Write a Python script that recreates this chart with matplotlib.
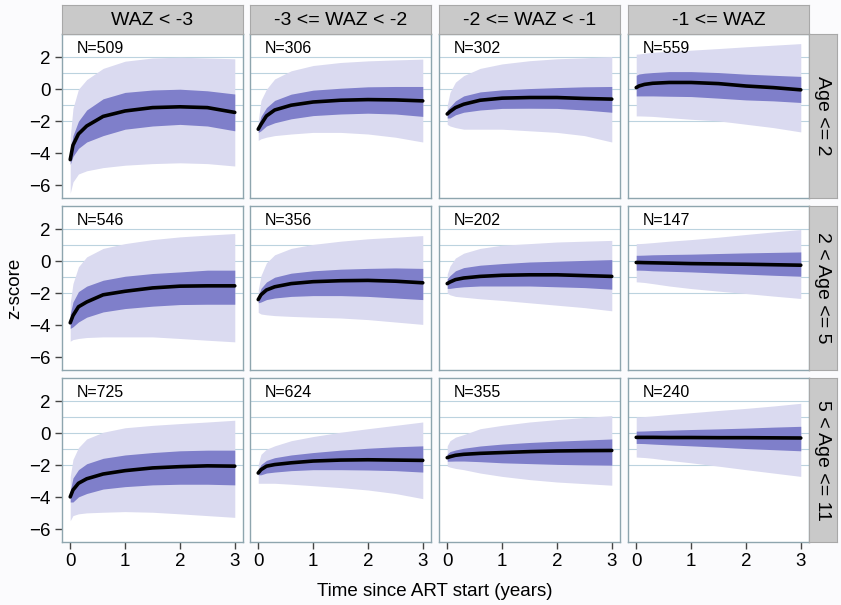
import matplotlib.pyplot as plt

plt.rcParams['font.family'] = ['Liberation Sans', 'DejaVu Sans']

# years since ART start at which the curves are given
t = [0, 0.05, 0.15, 0.3, 0.6, 1, 1.5, 2, 2.5, 3]

waz_groups = ['WAZ < -3', '-3 <= WAZ < -2', '-2 <= WAZ < -1', '-1 <= WAZ']
age_groups = ['Age <= 2', '2 < Age <= 5', '5 < Age <= 11']
n_children = [509, 306, 302, 559,
              546, 356, 202, 147,
              725, 624, 355, 240]

# panels in row order (age group), then column order (WAZ group)
median = [
    [-4.4, -3.5, -2.8, -2.3, -1.7, -1.36, -1.15, -1.1, -1.15, -1.45],
    [-2.5, -2.2, -1.67, -1.3, -1.0, -0.8, -0.69, -0.65, -0.67, -0.73],
    [-1.55, -1.4, -1.15, -0.94, -0.69, -0.56, -0.52, -0.52, -0.58, -0.62],
    [0.1, 0.2, 0.3, 0.37, 0.42, 0.42, 0.35, 0.2, 0.1, -0.04],
    [-3.85, -3.4, -2.85, -2.55, -2.1, -1.88, -1.67, -1.56, -1.54, -1.54],
    [-2.4, -2.1, -1.8, -1.6, -1.4, -1.28, -1.22, -1.2, -1.25, -1.35],
    [-1.4, -1.3, -1.15, -1.05, -0.95, -0.88, -0.85, -0.85, -0.9, -0.95],
    [-0.08, -0.08, -0.09, -0.1, -0.12, -0.15, -0.17, -0.19, -0.22, -0.25],
    [-3.98, -3.55, -3.13, -2.85, -2.55, -2.34, -2.17, -2.09, -2.04, -2.06],
    [-2.49, -2.28, -2.06, -1.96, -1.85, -1.74, -1.68, -1.66, -1.68, -1.7],
    [-1.53, -1.47, -1.38, -1.32, -1.26, -1.21, -1.15, -1.11, -1.09, -1.08],
    [-0.26, -0.26, -0.26, -0.26, -0.27, -0.27, -0.28, -0.28, -0.29, -0.3],
]
inner_hi = [
    [-4.0, -2.9, -2.0, -1.3, -0.6, -0.2, -0.05, 0.0, -0.1, -0.3],
    [-2.3, -1.7, -1.15, -0.7, -0.31, -0.06, 0.06, 0.15, 0.17, 0.17],
    [-1.3, -1.1, -0.73, -0.42, -0.17, -0.04, 0.04, 0.1, 0.15, 0.17],
    [0.87, 0.95, 1.0, 1.04, 1.1, 1.1, 1.04, 0.94, 0.87, 0.8],
    [-3.3, -2.55, -1.9, -1.56, -1.19, -0.94, -0.77, -0.67, -0.56, -0.56],
    [-2.2, -1.7, -1.3, -1.0, -0.75, -0.6, -0.5, -0.45, -0.42, -0.45],
    [-1.1, -0.9, -0.6, -0.4, -0.25, -0.15, -0.05, 0.0, 0.05, 0.1],
    [0.37, 0.37, 0.38, 0.4, 0.42, 0.44, 0.48, 0.52, 0.55, 0.58],
    [-3.6, -2.8, -2.28, -1.91, -1.57, -1.36, -1.21, -1.1, -1.06, -1.06],
    [-2.3, -1.96, -1.7, -1.53, -1.36, -1.21, -1.06, -0.94, -0.85, -0.79],
    [-1.3, -1.15, -1.05, -0.94, -0.8, -0.68, -0.58, -0.5, -0.43, -0.36],
    [0.13, 0.13, 0.14, 0.16, 0.19, 0.23, 0.27, 0.32, 0.38, 0.43],
]
inner_lo = [
    [-4.7, -4.2, -3.7, -3.3, -2.9, -2.5, -2.3, -2.2, -2.3, -2.6],
    [-2.7, -2.6, -2.3, -2.1, -1.85, -1.65, -1.55, -1.5, -1.55, -1.7],
    [-1.8, -1.8, -1.6, -1.44, -1.3, -1.2, -1.19, -1.2, -1.3, -1.44],
    [-0.42, -0.42, -0.42, -0.42, -0.44, -0.46, -0.56, -0.67, -0.73, -0.83],
    [-4.2, -4.1, -3.8, -3.5, -3.17, -2.96, -2.81, -2.71, -2.69, -2.69],
    [-2.6, -2.55, -2.4, -2.3, -2.2, -2.15, -2.15, -2.2, -2.3, -2.4],
    [-1.7, -1.7, -1.65, -1.6, -1.55, -1.55, -1.55, -1.6, -1.65, -1.75],
    [-0.56, -0.56, -0.57, -0.6, -0.63, -0.67, -0.74, -0.81, -0.88, -0.94],
    [-4.3, -4.3, -3.98, -3.77, -3.49, -3.34, -3.23, -3.19, -3.19, -3.23],
    [-2.6, -2.6, -2.49, -2.43, -2.34, -2.28, -2.28, -2.3, -2.34, -2.43],
    [-1.75, -1.75, -1.74, -1.74, -1.78, -1.85, -1.9, -1.95, -1.98, -2.0],
    [-0.64, -0.64, -0.65, -0.68, -0.73, -0.79, -0.87, -0.96, -1.03, -1.1],
]
outer_hi = [
    [-3.0, -1.2, 0.0, 0.6, 1.3, 1.75, 1.95, 2.0, 1.95, 1.9],
    [-2.0, -0.7, 0.0, 0.64, 1.15, 1.48, 1.67, 1.77, 1.83, 1.88],
    [-1.0, -0.2, 0.44, 0.85, 1.3, 1.58, 1.78, 1.9, 1.96, 2.04],
    [2.19, 2.2, 2.25, 2.3, 2.37, 2.44, 2.54, 2.65, 2.75, 2.85],
    [-2.6, -1.4, -0.35, 0.27, 0.8, 1.1, 1.35, 1.52, 1.63, 1.73],
    [-1.8, -0.9, -0.1, 0.4, 0.8, 1.05, 1.25, 1.4, 1.5, 1.6],
    [-0.8, -0.3, 0.2, 0.5, 0.8, 1.0, 1.1, 1.2, 1.25, 1.3],
    [1.1, 1.1, 1.12, 1.16, 1.25, 1.35, 1.5, 1.67, 1.83, 1.98],
    [-2.7, -1.64, -0.9, -0.36, 0.06, 0.34, 0.49, 0.6, 0.7, 0.81],
    [-1.96, -1.32, -1.0, -0.79, -0.47, -0.21, 0.06, 0.28, 0.49, 0.7],
    [-0.79, -0.47, -0.25, -0.09, 0.28, 0.49, 0.7, 0.85, 0.98, 1.1],
    [1.02, 1.02, 1.04, 1.08, 1.17, 1.28, 1.42, 1.55, 1.7, 1.87],
]
outer_lo = [
    [-6.5, -5.8, -5.3, -5.1, -4.9, -4.75, -4.65, -4.6, -4.65, -4.8],
    [-3.2, -3.1, -3.0, -2.9, -2.8, -2.7, -2.7, -2.8, -3.0, -3.3],
    [-2.2, -2.3, -2.4, -2.5, -2.5, -2.5, -2.6, -2.7, -2.9, -3.3],
    [-1.67, -1.67, -1.68, -1.7, -1.78, -1.88, -1.98, -2.19, -2.4, -2.67],
    [-5.0, -4.9, -4.83, -4.77, -4.73, -4.73, -4.73, -4.83, -4.94, -5.04],
    [-3.2, -3.3, -3.35, -3.4, -3.45, -3.5, -3.55, -3.65, -3.8, -3.95],
    [-2.0, -2.1, -2.2, -2.25, -2.35, -2.45, -2.6, -2.75, -2.9, -3.1],
    [-1.29, -1.3, -1.33, -1.4, -1.55, -1.71, -1.87, -2.02, -2.18, -2.33],
    [-5.47, -5.15, -5.04, -4.98, -4.94, -4.9, -4.94, -5.04, -5.15, -5.26],
    [-3.13, -3.13, -3.13, -3.13, -3.19, -3.28, -3.4, -3.55, -3.77, -4.09],
    [-2.06, -2.12, -2.2, -2.28, -2.49, -2.7, -2.9, -3.05, -3.15, -3.25],
    [-1.49, -1.5, -1.52, -1.57, -1.7, -1.85, -2.06, -2.28, -2.49, -2.7],
]

W, H = 841, 605
fig = plt.figure(figsize=(W / 100, H / 100), dpi=100, facecolor='#fbfbfd')


def box(x, y, w, h):
    # pixel box measured from the top-left corner -> figure fraction
    return [x / W, 1 - (y + h) / H, w / W, h / H]


col_left = [62, 250, 439, 628]
row_top = [34, 206, 378]
pw, ph = 181, 164
border = '#8ea5ae'
strip_fill = '#c9c9c9'

for r in range(3):
    for c in range(4):
        k = r * 4 + c
        ax = fig.add_axes(box(col_left[c], row_top[r], pw, ph))
        ax.set_facecolor('white')
        for yg in [-2, -1, 0, 1, 2]:
            ax.axhline(yg, color='#bcd3df', lw=0.8, zorder=0)
        ax.fill_between(t, outer_lo[k], outer_hi[k], color='#dadaf0', lw=0, zorder=1)
        ax.fill_between(t, inner_lo[k], inner_hi[k], color='#7f7fca', lw=0, zorder=2)
        ax.plot(t, median[k], color='black', lw=2.6, solid_capstyle='round',
                solid_joinstyle='round', zorder=3)
        ax.text(0.08, 0.96, 'N=%d' % n_children[k], transform=ax.transAxes,
                ha='left', va='top', fontsize=11.5)
        ax.set_xlim(-0.15, 3.15)
        ax.set_ylim(-6.8, 3.45)
        ax.set_xticks([0, 1, 2, 3])
        ax.set_yticks([-6, -4, -2, 0, 2])
        for s in ax.spines.values():
            s.set_color(border)
            s.set_linewidth(1.0)
        ax.tick_params(length=5, width=1, color='#444444', labelsize=13.5, pad=3)
        ax.tick_params(left=(c == 0), labelleft=(c == 0),
                       bottom=(r == 2), labelbottom=(r == 2))

# column strips
for c in range(4):
    sx = fig.add_axes(box(col_left[c], 5, pw, 29))
    sx.set_facecolor(strip_fill)
    sx.set_xticks([])
    sx.set_yticks([])
    for s in sx.spines.values():
        s.set_color('#a8a8a8')
    sx.text(0.5, 0.47, waz_groups[c], ha='center', va='center', fontsize=14)

# row strips
for r in range(3):
    sy = fig.add_axes(box(809, row_top[r], 28, ph))
    sy.set_facecolor(strip_fill)
    sy.set_xticks([])
    sy.set_yticks([])
    for s in sy.spines.values():
        s.set_color('#a8a8a8')
    sy.text(0.5, 0.5, age_groups[r], ha='center', va='center',
            rotation=270, fontsize=14)

fig.text(435 / W, 1 - 591 / H, 'Time since ART start (years)',
         ha='center', va='center', fontsize=13.5)
fig.text(15 / W, 1 - 288 / H, 'z-score', ha='center', va='center',
         rotation=90, fontsize=13.5)

fig.savefig('out.png', dpi=100, facecolor=fig.get_facecolor())
